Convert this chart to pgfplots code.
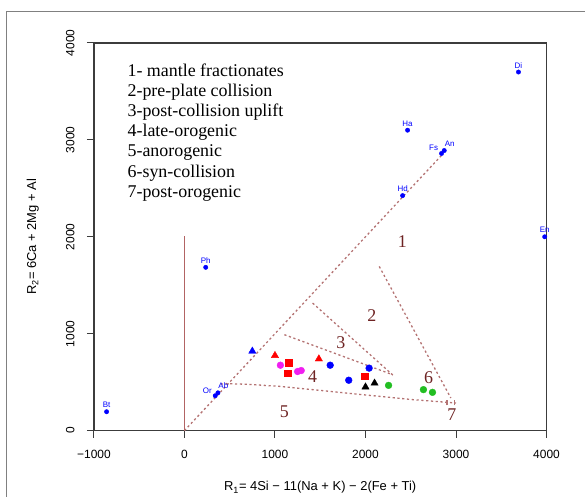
\documentclass[border=0pt]{standalone}
\usepackage{pgfplots}
\pgfplotsset{compat=1.18}
\usepackage{fontspec}
\setmainfont{Liberation Serif}
\setsansfont{Liberation Sans}
\definecolor{bnd}{RGB}{180,115,115}
\definecolor{vline}{RGB}{178,100,100}
\definecolor{reg}{RGB}{110,35,35}
\definecolor{grn}{RGB}{34,190,34}
\definecolor{axgray}{RGB}{60,60,60}
\definecolor{mag}{RGB}{240,30,240}
\begin{document}
\begin{tikzpicture}
\begin{axis}[
 scale only axis, width=453bp, height=388bp,
 xmin=-1000, xmax=4000, ymin=0, ymax=4000,
 xtick={-1000,0,1000,2000,3000,4000},
 xticklabels={−1000,0,1000,2000,3000,4000},
 ytick={0,1000,2000,3000,4000},
 yticklabels={0,1000,2000,3000,4000},
 tick align=outside, xtick pos=bottom, ytick pos=left,
 major tick length=7bp,
 axis line style={axgray, line width=1.2bp},
 tick style={axgray, line width=1bp},
 ticklabel style={font=\sffamily\fontsize{12}{14}\selectfont},
 xticklabel shift=9bp, yticklabel shift=9bp,
 yticklabel style={rotate=90, anchor=south},
 xticklabel style={anchor=north},
 xlabel={R\textsubscript{1}= 4Si − 11(Na + K) − 2(Fe + Ti)},
 ylabel={R\textsubscript{2}= 6Ca + 2Mg + Al},
 xlabel style={font=\sffamily\fontsize{13}{15}\selectfont, at={(axis description cs:0.5,-0.147)}, anchor=center},
 ylabel style={font=\sffamily\fontsize{13}{15}\selectfont, at={(axis description cs:-0.135,0.5)}, rotate=0, anchor=center},
]
% boundaries
\addplot[vline, line width=1.4bp] coordinates {(0,0) (0,2013)};
\addplot[bnd, line width=1.3bp, dash pattern=on 2.2bp off 2.6bp] coordinates {(0,0) (2850,2850)};
\addplot[bnd, line width=1.3bp, dash pattern=on 2.2bp off 2.6bp] coordinates {(1416,1316) (2318,560)};
\addplot[bnd, line width=1.3bp, dash pattern=on 2.2bp off 2.6bp] coordinates {(1104,990) (2300,577)};
\addplot[bnd, line width=1.3bp, dash pattern=on 2.2bp off 2.6bp] coordinates {(2152,1694) (2943,337)};
\addplot[bnd, line width=1.3bp, dash pattern=on 2.2bp off 2.6bp] coordinates {(400,480) (460,485) (700,478) (1049,457) (1415,423) (1785,388) (2152,354) (2520,320) (3000,285)};
\addplot[bnd, line width=1.1bp] coordinates {(2900,260) (2900,320)};
\addplot[bnd, line width=1.1bp] coordinates {(2985,260) (2985,320)};
% minerals
\addplot[only marks, mark=*, mark size=2.2bp, blue,
  nodes near coords, point meta=explicit symbolic,
  nodes near coords style={font=\sffamily\fontsize{8}{9}\selectfont, blue, anchor=south, yshift=0.5bp}]
  table[meta=label] {
x y label
3690 3700 Di
2465 3100 Ha
2410 2425 Hd
3980 2000 En
235 1685 Ph
-860 195 Bt
};
\addplot[only marks, mark=*, mark size=2.2bp, blue,
  nodes near coords, point meta=explicit symbolic,
  nodes near coords style={font=\sffamily\fontsize{8}{9}\selectfont, blue, anchor=south west, xshift=-3bp, yshift=0.5bp}]
  table[meta=label] {
x y label
2870 2890 An
370 390 Ab
};
\addplot[only marks, mark=*, mark size=2.2bp, blue,
  nodes near coords, point meta=explicit symbolic,
  nodes near coords style={font=\sffamily\fontsize{8}{9}\selectfont, blue, anchor=south east, xshift=0bp, yshift=-1bp}]
  table[meta=label] {
x y label
2840 2860 Fs
340 360 Or
};
% samples
\addplot[only marks, mark=triangle*, mark size=4.2bp, blue] coordinates {(750,820)};
\addplot[only marks, mark=triangle*, mark size=4.2bp, red] coordinates {(1000,775) (1485,740)};
\addplot[only marks, mark=square*, mark size=3.2bp, red] coordinates {(1150,700) (1140,590) (1990,560)};
\addplot[only marks, mark=*, mark size=3.4bp, mag] coordinates {(1060,675) (1250,610) (1290,620)};
\addplot[only marks, mark=*, mark size=3.4bp, blue] coordinates {(1610,675) (2040,645) (1815,520)};
\addplot[only marks, mark=triangle*, mark size=4.2bp, black] coordinates {(2000,450) (2100,490)};
\addplot[only marks, mark=*, mark size=3.4bp, grn] coordinates {(2255,467) (2640,423) (2740,395)};
% region numbers
\begin{scope}[every node/.style={font=\fontsize{18}{20}\selectfont, text=reg, inner sep=0pt}]
\node at (axis cs:2406,1952) {1};
\node at (axis cs:2071,1186) {2};
\node at (axis cs:1729,910) {3};
\node at (axis cs:1416,560) {4};
\node at (axis cs:1104,199) {5};
\node at (axis cs:2697,543) {6};
\node at (axis cs:2954,165) {7};
\end{scope}
\node[anchor=north west, align=left, inner sep=0pt, font=\fontsize{18}{20.3}\selectfont] at (axis cs:-630,3790)
 {1- mantle fractionates\\2-pre-plate collision\\3-post-collision uplift\\4-late-orogenic\\5-anorogenic\\6-syn-collision\\7-post-orogenic};
\end{axis}
\draw[gray, line width=1bp] ([shift={(-87bp,-66bp)}]current axis.south west) -- ([shift={(-87bp,31bp)}]current axis.north west) -- ([shift={(38bp,31bp)}]current axis.north east);
\path[use as bounding box] ([shift={(-94bp,-66bp)}]current axis.south west) rectangle ([shift={(38bp,43bp)}]current axis.north east);
\end{tikzpicture}
\end{document}
